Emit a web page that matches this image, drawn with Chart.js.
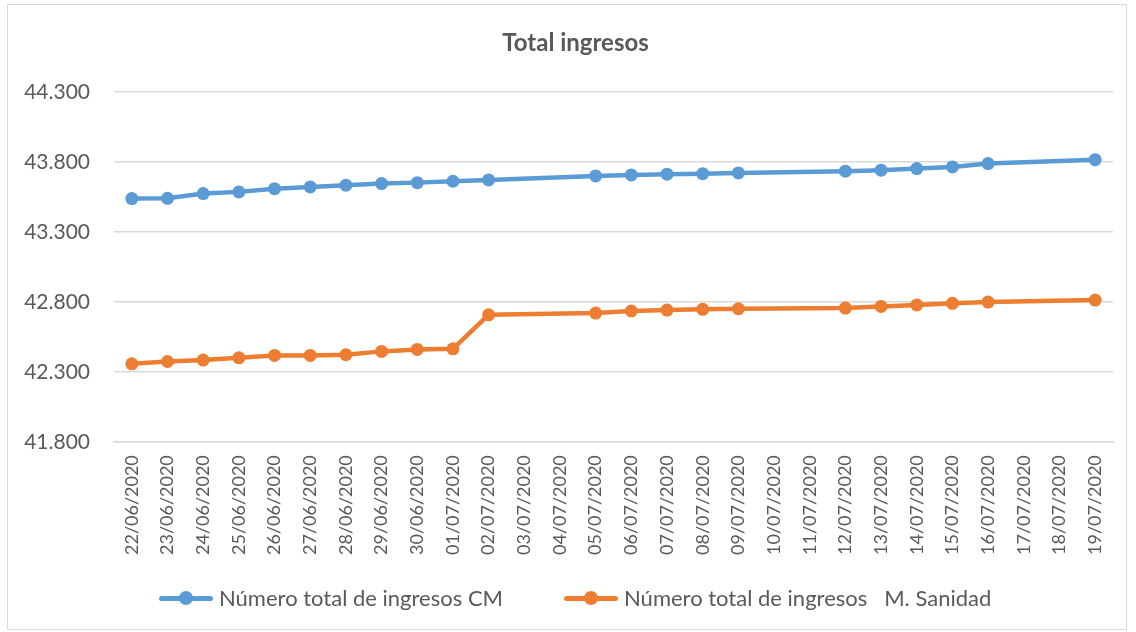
<!DOCTYPE html>
<html>
<head>
<meta charset="utf-8">
<script src="https://cdn.jsdelivr.net/npm/chart.js"></script>
<style>
  html,body{margin:0;padding:0;background:#fff;}
  #wrap{position:relative;width:1136px;height:632px;}
  #frame{position:absolute;left:7px;top:4px;width:1120px;height:626px;border:1px solid #d9d9d9;box-sizing:border-box;pointer-events:none;}
  canvas{position:absolute;left:0;top:0;}
  #legend{position:absolute;left:158px;top:585px;display:flex;align-items:center;
    font-family:Lato,"Open Sans",sans-serif;font-size:22px;line-height:26px;color:#595959;white-space:pre;}
  .item{display:flex;align-items:center;margin-right:60px;}
  .ico{position:relative;width:56px;height:16px;margin-right:5px;}
  .ico::before{content:"";position:absolute;left:1px;right:1px;top:6px;height:4.5px;border-radius:3px;background:var(--c);}
  .ico::after{content:"";position:absolute;left:21px;top:1px;width:14px;height:14px;border-radius:50%;background:var(--c);}
</style>
</head>
<body>
<div id="wrap">
  <canvas id="c" width="1136" height="632"></canvas>
  <div id="legend"></div>
  <div id="frame"></div>
</div>
<script>
/* ---------- DATA ---------- */
const fechas = ["22/06/2020","23/06/2020","24/06/2020","25/06/2020","26/06/2020","27/06/2020","28/06/2020",
  "29/06/2020","30/06/2020","01/07/2020","02/07/2020","03/07/2020","04/07/2020","05/07/2020","06/07/2020",
  "07/07/2020","08/07/2020","09/07/2020","10/07/2020","11/07/2020","12/07/2020","13/07/2020","14/07/2020",
  "15/07/2020","16/07/2020","17/07/2020","18/07/2020","19/07/2020"];
const ingresosCM = [43538,43540,43574,43586,43609,43621,43634,43645,43652,43662,43671,null,null,43700,43707,
  43712,43716,43721,null,null,43734,43741,43752,43764,43788,null,null,43816];
const ingresosSanidad = [42359,42376,42386,42402,42419,42419,42424,42448,42462,42466,42709,null,null,42721,42736,
  42743,42748,42752,null,null,42757,42769,42779,42791,42800,null,null,42814];
const yTicks = [41800,42300,42800,43300,43800,44300];

/* ---------- HELPERS ---------- */
const FONT = "Lato, 'Open Sans', sans-serif";
const GREY = "#595959";
const BLUE = "#5B9BD5", ORANGE = "#ED7D31";
function fmt(v){return String(v).replace(/\B(?=(\d{3})+(?!\d))/g,".");}
// nudge title to the centre of the whole frame, not of the padded box
const titleShift={id:"titleShift",afterLayout(ch){if(ch.titleBlock){ch.titleBlock.left+=9;ch.titleBlock.right+=9;}}};

/* ---------- CHART ---------- */
const chart = new Chart(document.getElementById("c").getContext("2d"),{
  type:"line",
  data:{labels:fechas,datasets:[
    {label:"Número total de ingresos CM",data:ingresosCM,borderColor:BLUE,backgroundColor:BLUE,
     borderWidth:4.5,pointRadius:6.5,pointHoverRadius:6.5,pointBorderWidth:0,spanGaps:true,tension:0},
    {label:"Número total de ingresos   M. Sanidad",data:ingresosSanidad,borderColor:ORANGE,backgroundColor:ORANGE,
     borderWidth:4.5,pointRadius:6.5,pointHoverRadius:6.5,pointBorderWidth:0,spanGaps:true,tension:0}
  ]},
  options:{
    responsive:false,animation:false,
    layout:{padding:{left:20,right:23,top:12,bottom:64}},
    plugins:{
      title:{display:true,text:"Total ingresos",color:GREY,font:{family:FONT,size:24,weight:"bold"},padding:{top:17,bottom:34}},
      legend:{display:false},
      tooltip:{enabled:false}
    },
    scales:{
      x:{offset:true,grid:{display:false,drawTicks:false},border:{color:"#d9d9d9",width:1.5},
        ticks:{color:GREY,font:{family:FONT,size:18},maxRotation:90,minRotation:90,autoSkip:false,padding:13}},
      y:{min:yTicks[0],max:yTicks[yTicks.length-1],
        afterBuildTicks(ax){ax.ticks=yTicks.map(v=>({value:v}));},
        afterFit(ax){ax.width=94;},
        grid:{color:"#d9d9d9",lineWidth:1.5,drawTicks:false},border:{display:false},
        ticks:{color:GREY,font:{family:FONT,size:21},padding:24,callback:v=>fmt(v)}}
    }
  },
  plugins:[titleShift]
});

/* ---------- LEGEND (html) ---------- */
document.getElementById("legend").innerHTML=chart.data.datasets.map(d=>
  `<div class="item"><span class="ico" style="--c:${d.borderColor}"></span><span>${d.label}</span></div>`).join("");
</script>
</body>
</html>
